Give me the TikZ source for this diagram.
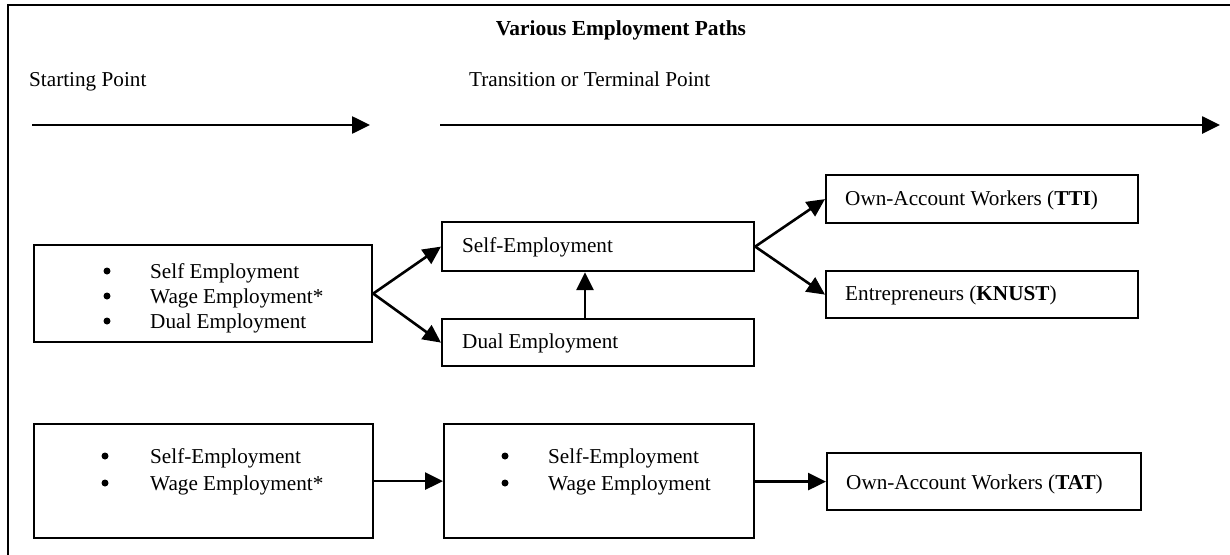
\documentclass[tikz,border=0pt]{standalone}
\usepackage{fontspec}
\setmainfont{Liberation Serif}
\usetikzlibrary{arrows.meta}
\begin{document}
\begin{tikzpicture}[x=1pt,y=-1pt,
  txt/.style={font=\fontsize{21.2}{25}\selectfont, inner sep=0pt, anchor=base west},
  dot/.style={circle, fill, inner sep=0pt, minimum size=7pt},
  boxnode/.style={draw, line width=2.2pt, inner sep=0pt, anchor=north west},
  conn/.style={line width=2.6pt, -{Triangle[length=18pt,width=17pt]}},
  frameline/.style={line width=2.6pt}]
\useasboundingbox (0,0) rectangle (1230,554);
\clip (0,0) rectangle (1230,554);
% outer frame
\draw[frameline] (8,5) rectangle (1260,600);

% headings
\node[txt, anchor=base, font=\fontsize{21.4}{25}\selectfont\bfseries] (title) at (621,35) {Various Employment Paths};
\node[txt] (start) at (29,86) {Starting Point};
\node[txt] (trans) at (469,86) {Transition or Terminal Point};

% timeline arrows
\coordinate (s0) at (32,125);
\coordinate (s1) at (370,125);
\coordinate (t0) at (440,125);
\coordinate (t1) at (1220,125);
\draw[conn] (s0) -- (s1);
\draw[conn] (t0) -- (t1);

% upper path boxes
\node[boxnode, minimum width=338pt, minimum height=97pt] (a) at (33,244) {};
\node[boxnode, minimum width=312pt, minimum height=49pt] (b) at (441,221) {};
\node[boxnode, minimum width=312pt, minimum height=47pt] (c) at (441,318) {};
\node[boxnode, minimum width=312pt, minimum height=48pt] (d) at (825,174) {};
\node[boxnode, minimum width=312pt, minimum height=47pt] (e) at (825,270) {};

% box a contents (last line cut at the box's text area)
\node[dot] (a1b) at (107,271) {};
\node[txt] (a1) at (150,278) {Self Employment};
\node[dot] (a2b) at (107,296) {};
\node[txt] (a2) at (150,303) {Wage Employment*};
\node[dot] (a3b) at (107,321) {};
\begin{scope}
  \clip (34,245) rectangle (370,332);
  \node[txt] (a3) at (150,328) {Dual Employment};
\end{scope}

\node[txt] (btext) at (462,252) {Self-Employment};
\node[txt] (ctext) at (462,348) {Dual Employment};
\node[txt] (dtext) at (845,205) {Own-Account Workers (\textbf{TTI})};
\node[txt] (etext) at (845,300) {Entrepreneurs (\textbf{KNUST})};

% upper path connectors
\draw[conn] (a.east) -- (b.west);
\draw[conn] (a.east) -- (c.west);
\draw[conn] (b.east) -- (d.west);
\draw[conn] (b.east) -- (e.west);
\coordinate (vx) at (585,0);
\draw[conn] (vx |- c.north) -- (vx |- b.south);

% lower path boxes
\node[boxnode, minimum width=339pt, minimum height=114pt] (f) at (33,423) {};
\node[boxnode, minimum width=310pt, minimum height=114pt] (g) at (443,423) {};
\node[boxnode, minimum width=314pt, minimum height=57pt] (h) at (826,452) {};

\node[dot] (f1b) at (105,456) {};
\node[txt] (f1) at (150,463) {Self-Employment};
\node[dot] (f2b) at (105,483) {};
\node[txt] (f2) at (150,490) {Wage Employment*};

\node[dot] (g1b) at (505,456) {};
\node[txt] (g1) at (548,463) {Self-Employment};
\node[dot] (g2b) at (505,483) {};
\node[txt] (g2) at (548,490) {Wage Employment};

\node[txt] (htext) at (846,489) {Own-Account Workers (\textbf{TAT})};

% lower path connectors
\draw[conn] (f.east) -- (g.west);
\draw[conn] (h.west -| g.east) -- (h.west);
\end{tikzpicture}
\end{document}
